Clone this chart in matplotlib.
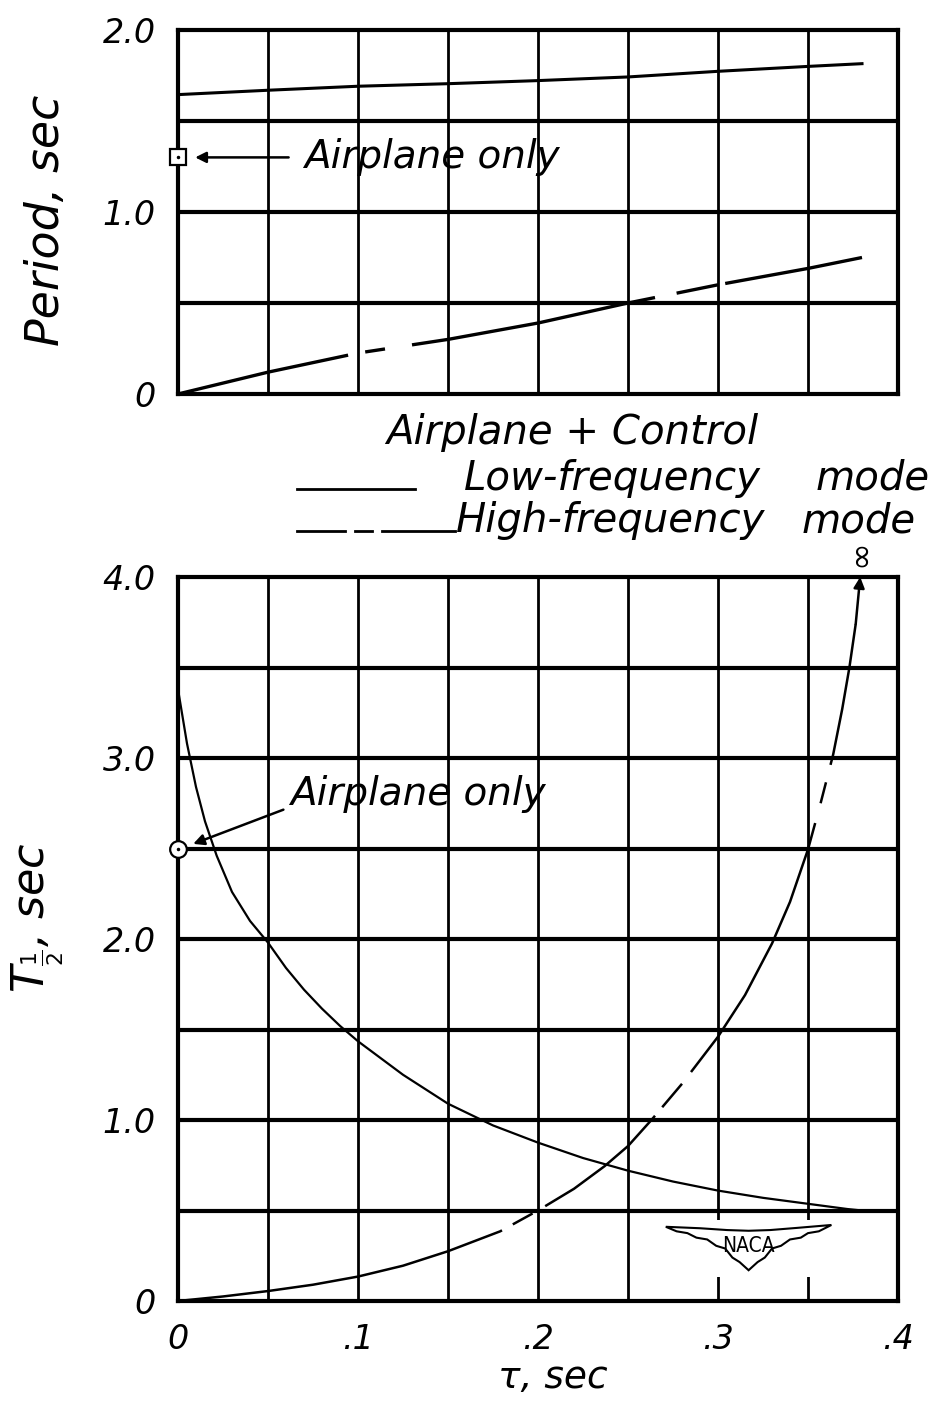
import matplotlib
matplotlib.use("Agg")
import numpy as np
import matplotlib.pyplot as plt
from matplotlib.lines import Line2D
from matplotlib.patches import Rectangle, Polygon

# ---------------- data ----------------
tau_top = [0, 0.05, 0.10, 0.15, 0.20, 0.25, 0.30, 0.35, 0.38]
period_low = [1.645, 1.669, 1.691, 1.705, 1.722, 1.742, 1.773, 1.800, 1.815]
period_high = [0.0, 0.12, 0.225, 0.30, 0.39, 0.50, 0.60, 0.69, 0.75]
airplane_only_period = (0.0, 1.30)

tau_low = [0, 0.005, 0.01, 0.015, 0.0215, 0.03, 0.04, 0.05, 0.06, 0.07,
           0.08, 0.09, 0.10, 0.125, 0.15, 0.175, 0.20, 0.225, 0.25, 0.275,
           0.30, 0.325, 0.35, 0.372, 0.385]
thalf_low = [3.38, 3.08, 2.84, 2.65, 2.46, 2.26, 2.10, 1.98, 1.84, 1.72,
             1.615, 1.52, 1.435, 1.25, 1.09, 0.97, 0.875, 0.79, 0.72, 0.66,
             0.61, 0.57, 0.537, 0.508, 0.495]
tau_high = [0, 0.025, 0.05, 0.075, 0.10, 0.125, 0.15, 0.179, 0.20, 0.22,
            0.237, 0.25, 0.263, 0.28, 0.30, 0.315, 0.33, 0.34, 0.35,
            0.357, 0.364, 0.369, 0.373, 0.3765]
thalf_high = [0.0, 0.025, 0.055, 0.09, 0.135, 0.195, 0.275, 0.385, 0.50, 0.62,
              0.745, 0.856, 1.00, 1.20, 1.46, 1.69, 1.975, 2.205, 2.495,
              2.75, 3.02, 3.27, 3.50, 3.74]
high_arrow_end = (0.379, 4.0)
airplane_only_thalf = (0.0, 2.50)

top_yticks = [0, 1.0, 2.0]
top_ylabels = ["0", "1.0", "2.0"]
bot_yticks = [0, 1.0, 2.0, 3.0, 4.0]
bot_ylabels = ["0", "1.0", "2.0", "3.0", "4.0"]
bot_xticks = [0, 0.1, 0.2, 0.3, 0.4]
bot_xlabels = ["0", ".1", ".2", ".3", ".4"]

# breaks of the hand-drawn dashed lines (in tau)
top_dash_gaps = [(0.0945, 0.104), (0.115, 0.130), (0.265, 0.277), (0.300, 0.304)]
bot_dash_gaps = [(0.180, 0.186), (0.197, 0.204), (0.265, 0.269), (0.280, 0.285),
                 (0.354, 0.357), (0.360, 0.3625)]

# ---------------- style ----------------
plt.rcParams['font.family'] = ['DejaVu Sans']
plt.rcParams['lines.scale_dashes'] = False
FS = dict(family='DejaVu Sans', style='italic')
W, H = 938, 1403
DPI = 100
fig = plt.figure(figsize=(W / DPI, H / DPI), dpi=DPI)
fig.patch.set_facecolor('white')


def fx(px):
    return px / W


def fy(py):
    return 1 - py / H


def make_grid(ax, ymax):
    for x in [i * 0.05 for i in range(1, 8)]:
        ax.axvline(x, color='black', lw=2.0, zorder=1)
    y = 0.5
    while y < ymax - 1e-9:
        ax.axhline(y, color='black', lw=3.0, zorder=1)
        y += 0.5
    for s in ax.spines.values():
        s.set_linewidth(3.0)
        s.set_color('black')
    ax.tick_params(length=0)


def gap_dashes(ax, xs, ys, gaps):
    pts = ax.transData.transform(np.column_stack([xs, ys]))
    seg = np.hypot(*np.diff(pts, axis=0).T)
    cum = np.concatenate([[0.0], np.cumsum(seg)])
    seq, pos = [], 0.0
    for a, b in gaps:
        la, lb = np.interp(a, xs, cum), np.interp(b, xs, cum)
        seq += [la - pos, lb - la]
        pos = lb
    seq += [cum[-1] - pos + 2000, 1]
    return (0, [v * 72.0 / DPI for v in seq])


# ---------------- top panel ----------------
ax1 = fig.add_axes([fx(178), fy(394), fx(898) - fx(178), fy(30) - fy(394)])
ax1.set_xlim(0, 0.4)
ax1.set_ylim(0, 2.0)
make_grid(ax1, 2.0)
ax1.set_xticks([])
ax1.set_yticks(top_yticks)
ax1.set_yticklabels(top_ylabels, fontsize=24, **FS)
ax1.tick_params(axis='y', pad=16)
ax1.plot(tau_top, period_low, color='black', lw=2.2, zorder=3)
ax1.plot(tau_top, period_high, color='black', lw=2.4, zorder=3,
         linestyle=gap_dashes(ax1, tau_top, period_high, top_dash_gaps))
ax1.plot(*airplane_only_period, marker='s', ms=11, mfc='white', mec='black',
         mew=1.6, clip_on=False, zorder=5)
ax1.plot(*airplane_only_period, marker='.', ms=3, color='black',
         clip_on=False, zorder=6)
ax1.annotate('', xy=(0.008, 1.30), xytext=(0.063, 1.30),
             arrowprops=dict(arrowstyle='-|>', color='black', lw=1.8,
                             mutation_scale=16), zorder=5)
ax1.text(0.070, 1.30, 'Airplane only', fontsize=28, va='center', ha='left',
         zorder=5, **FS)

# ---------------- bottom panel ----------------
ax2 = fig.add_axes([fx(178), fy(1301), fx(898) - fx(178), fy(577) - fy(1301)])
ax2.set_xlim(0, 0.4)
ax2.set_ylim(0, 4.0)
make_grid(ax2, 4.0)
ax2.set_xticks(bot_xticks)
ax2.set_xticklabels(bot_xlabels, fontsize=24, **FS)
ax2.set_yticks(bot_yticks)
ax2.set_yticklabels(bot_ylabels, fontsize=24, **FS)
ax2.tick_params(axis='y', pad=16)
ax2.tick_params(axis='x', pad=16)

# NACA emblem (grid blanked behind it)
ax2.add_patch(Rectangle((0.268, 0.13), 0.098, 0.32, facecolor='white',
                        edgecolor='none', zorder=2))
wing = Polygon([(0.271, 0.410), (0.290, 0.402), (0.305, 0.392), (0.317, 0.388),
                (0.329, 0.392), (0.344, 0.404), (0.363, 0.420),
                (0.356, 0.385), (0.350, 0.375), (0.346, 0.350), (0.340, 0.340),
                (0.335, 0.305), (0.330, 0.290), (0.326, 0.240), (0.322, 0.215),
                (0.317, 0.170),
                (0.312, 0.215), (0.308, 0.240), (0.304, 0.290), (0.299, 0.305),
                (0.294, 0.340), (0.288, 0.350), (0.283, 0.375), (0.277, 0.385)],
               closed=True, facecolor='white', edgecolor='black', lw=1.5,
               zorder=3)
ax2.add_patch(wing)
ax2.text(0.317, 0.305, 'NACA', fontsize=15, ha='center', va='center',
         family='DejaVu Sans', fontstretch='condensed', zorder=4)

ax2.plot(tau_low, thalf_low, color='black', lw=1.6, zorder=3)
ax2.plot(tau_high, thalf_high, color='black', lw=1.8, zorder=3,
         linestyle=gap_dashes(ax2, tau_high, thalf_high, bot_dash_gaps))
ax2.annotate('', xy=high_arrow_end, xytext=(tau_high[-1], thalf_high[-1]),
             arrowprops=dict(arrowstyle='-|>', color='black', lw=1.8,
                             mutation_scale=16, shrinkA=0, shrinkB=0),
             zorder=4)
ax2.text(0.379, 4.13, '∞', fontsize=24, rotation=90, ha='center',
         va='center', family='DejaVu Sans')

ax2.plot(*airplane_only_thalf, marker='o', ms=12, mfc='white', mec='black',
         mew=1.6, clip_on=False, zorder=5)
ax2.plot(*airplane_only_thalf, marker='.', ms=3, color='black',
         clip_on=False, zorder=6)
ax2.annotate('', xy=(0.007, 2.52), xytext=(0.060, 2.72),
             arrowprops=dict(arrowstyle='-|>', color='black', lw=1.8,
                             mutation_scale=16), zorder=5)
ax2.text(0.062, 2.80, 'Airplane only', fontsize=28, va='center', ha='left',
         zorder=5, **FS)

# ---------------- labels ----------------
fig.text(fx(46), fy(220), 'Period, sec', rotation=90, fontsize=33,
         ha='center', va='center', **FS)
fig.text(fx(38), fy(918), r'$T_{\frac{1}{2}}$, sec', rotation=90, fontsize=32,
         ha='center', va='center', **FS)
fig.text(fx(553), fy(1378), 'τ, sec', fontsize=27, ha='center', va='center',
         **FS)

# legend block
fig.text(fx(572), fy(432), 'Airplane + Control', fontsize=29, ha='center',
         va='center', **FS)
fig.text(fx(464), fy(478), 'Low-frequency', fontsize=29, ha='left',
         va='center', **FS)
fig.text(fx(930), fy(478), 'mode', fontsize=29, ha='right',
         va='center', **FS)
fig.text(fx(456), fy(521), 'High-frequency', fontsize=29, ha='left',
         va='center', **FS)
fig.text(fx(916), fy(521), 'mode', fontsize=29, ha='right',
         va='center', **FS)
fig.add_artist(Line2D([fx(297), fx(415)], [fy(489), fy(489)], color='black',
                      lw=2.0, transform=fig.transFigure))
for a, b in [(297, 345), (355, 372), (382, 455)]:
    fig.add_artist(Line2D([fx(a), fx(b)], [fy(531), fy(531)], color='black',
                          lw=2.0, transform=fig.transFigure))

fig.savefig('out.png', dpi=DPI, facecolor='white')
